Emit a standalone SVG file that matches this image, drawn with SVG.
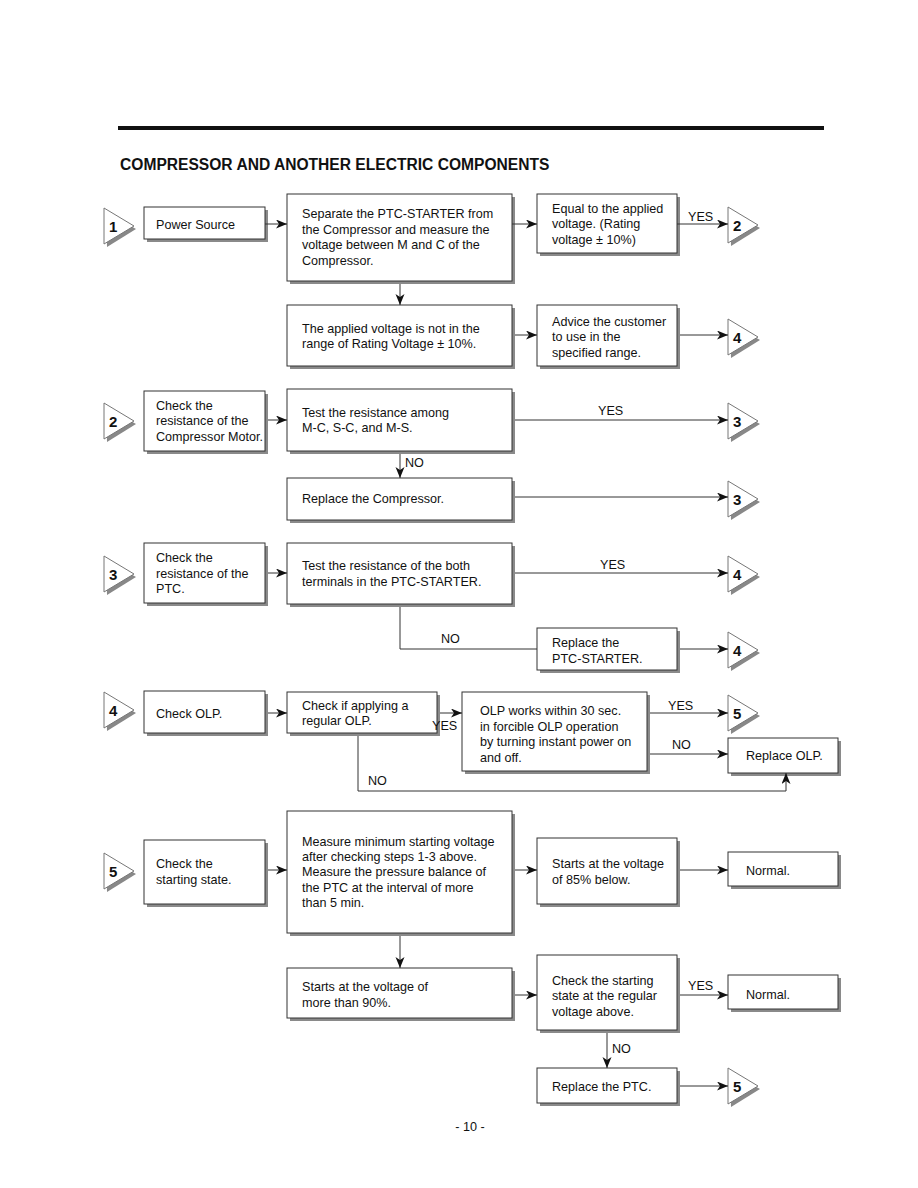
<svg xmlns="http://www.w3.org/2000/svg" xmlns:xlink="http://www.w3.org/1999/xlink" width="918" height="1188" viewBox="0 0 918 1188">
<style>
.bx{fill:#fff;stroke:#333;stroke-width:1}
.sh{fill:#8a8a8a}
.t{font-family:"Liberation Sans",Arial,sans-serif;font-size:12.6px;fill:#111}
.n{font-family:"Liberation Sans",Arial,sans-serif;font-size:15px;font-weight:bold;fill:#111}
.ln{fill:none;stroke:#333;stroke-width:1}
.ar{marker-end:url(#ah)}
.tri{fill:#fff;stroke:#777;stroke-width:1}
.trs{fill:#888}
</style>
<defs>
<marker id="ah" markerUnits="userSpaceOnUse" markerWidth="12" markerHeight="10" refX="11" refY="4.5" orient="auto">
<path d="M0,0 L11,4.5 L0,9 L3,4.5 z" fill="#111"/>
</marker>
<g id="tri">
<polygon class="trs" points="2,4 32,21 3,39"/>
<polygon class="tri" points="0,0 30,18 0,36"/>
</g>
</defs>
<rect x="118" y="126" width="706" height="4" fill="#111"/>
<text x="120" y="170" font-family="'Liberation Sans',Arial,sans-serif" font-size="15.6" font-weight="bold" fill="#111">COMPRESSOR AND ANOTHER ELECTRIC COMPONENTS</text>

<!-- Row 1 -->
<g id="c1a"><use xlink:href="#tri" x="104" y="208"/><text class="n" x="109" y="232">1</text></g>
<g id="n_power"><rect class="sh" x="147" y="210" width="121" height="32"/><rect class="bx" x="144" y="207" width="121" height="32"/><text class="t" x="156" y="229">Power Source</text></g>
<g id="n_separate"><rect class="sh" x="290" y="197" width="225" height="87"/><rect class="bx" x="287" y="194" width="225" height="87"/>
<text class="t" x="302" y="218">Separate the PTC-STARTER from</text>
<text class="t" x="302" y="234">the Compressor and measure the</text>
<text class="t" x="302" y="249">voltage between M and C of the</text>
<text class="t" x="302" y="265">Compressor.</text></g>
<g id="n_equal"><rect class="sh" x="540" y="197" width="140" height="59"/><rect class="bx" x="537" y="194" width="140" height="59"/>
<text class="t" x="552" y="213">Equal to the applied</text>
<text class="t" x="552" y="228">voltage. (Rating</text>
<text class="t" x="552" y="244">voltage ± 10%)</text></g>
<g id="c2a"><use xlink:href="#tri" x="728" y="207"/><text class="n" x="733" y="231">2</text></g>
<g id="n_notrange"><rect class="sh" x="290" y="308" width="225" height="61"/><rect class="bx" x="287" y="305" width="225" height="61"/>
<text class="t" x="302" y="333">The applied voltage is not in the</text>
<text class="t" x="302" y="348">range of Rating Voltage ± 10%.</text></g>
<g id="n_advice"><rect class="sh" x="540" y="308" width="140" height="61"/><rect class="bx" x="537" y="305" width="140" height="61"/>
<text class="t" x="552" y="326">Advice the customer</text>
<text class="t" x="552" y="341">to use in the</text>
<text class="t" x="552" y="357">specified range.</text></g>
<g id="c4a"><use xlink:href="#tri" x="728" y="319"/><text class="n" x="733" y="343">4</text></g>

<!-- Row 2 -->
<g id="c2b"><use xlink:href="#tri" x="104" y="403"/><text class="n" x="109" y="427">2</text></g>
<g id="n_checkres"><rect class="sh" x="147" y="394" width="121" height="60"/><rect class="bx" x="144" y="391" width="121" height="60"/>
<text class="t" x="156" y="410">Check the</text>
<text class="t" x="156" y="425">resistance of the</text>
<text class="t" x="156" y="441">Compressor Motor.</text></g>
<g id="n_testres"><rect class="sh" x="290" y="392" width="225" height="62"/><rect class="bx" x="287" y="389" width="225" height="62"/>
<text class="t" x="302" y="417">Test the resistance among</text>
<text class="t" x="302" y="432">M-C, S-C, and M-S.</text></g>
<g id="c3a"><use xlink:href="#tri" x="728" y="403"/><text class="n" x="733" y="427">3</text></g>
<g id="n_replcomp"><rect class="sh" x="290" y="481" width="225" height="42"/><rect class="bx" x="287" y="478" width="225" height="42"/>
<text class="t" x="302" y="503">Replace the Compressor.</text></g>
<g id="c3b"><use xlink:href="#tri" x="728" y="481"/><text class="n" x="733" y="505">3</text></g>

<!-- Row 3 -->
<g id="c3c"><use xlink:href="#tri" x="104" y="556"/><text class="n" x="109" y="580">3</text></g>
<g id="n_checkptc"><rect class="sh" x="147" y="546" width="121" height="60"/><rect class="bx" x="144" y="543" width="121" height="60"/>
<text class="t" x="156" y="562">Check the</text>
<text class="t" x="156" y="578">resistance of the</text>
<text class="t" x="156" y="593">PTC.</text></g>
<g id="n_testptc"><rect class="sh" x="290" y="546" width="225" height="61"/><rect class="bx" x="287" y="543" width="225" height="61"/>
<text class="t" x="302" y="570">Test the resistance of the both</text>
<text class="t" x="302" y="586">terminals in the PTC-STARTER.</text></g>
<g id="c4b"><use xlink:href="#tri" x="728" y="556"/><text class="n" x="733" y="580">4</text></g>
<g id="n_replptcs"><rect class="sh" x="540" y="631" width="140" height="42"/><rect class="bx" x="537" y="628" width="140" height="42"/>
<text class="t" x="552" y="647">Replace the</text>
<text class="t" x="552" y="663">PTC-STARTER.</text></g>
<g id="c4c"><use xlink:href="#tri" x="728" y="632"/><text class="n" x="733" y="656">4</text></g>

<!-- Row 4 -->
<g id="c4d"><use xlink:href="#tri" x="104" y="692"/><text class="n" x="109" y="716">4</text></g>
<g id="n_checkolp"><rect class="sh" x="147" y="694" width="121" height="42"/><rect class="bx" x="144" y="691" width="121" height="42"/>
<text class="t" x="156" y="718">Check OLP.</text></g>
<g id="n_regolp"><rect class="sh" x="290" y="695" width="150" height="41"/><rect class="bx" x="287" y="692" width="150" height="41"/>
<text class="t" x="302" y="710">Check if applying a</text>
<text class="t" x="302" y="725">regular OLP.</text></g>
<g id="n_olpworks"><rect class="sh" x="465" y="695" width="185" height="79"/><rect class="bx" x="462" y="692" width="185" height="79"/>
<text class="t" x="480" y="715">OLP works within 30 sec.</text>
<text class="t" x="480" y="731">in forcible OLP operation</text>
<text class="t" x="480" y="746">by turning instant power on</text>
<text class="t" x="480" y="762">and off.</text></g>
<g id="c5a"><use xlink:href="#tri" x="728" y="695"/><text class="n" x="733" y="719">5</text></g>
<g id="n_replolp"><rect class="sh" x="731" y="741" width="110" height="35"/><rect class="bx" x="728" y="738" width="110" height="35"/>
<text class="t" x="746" y="760">Replace OLP.</text></g>

<!-- Row 5 -->
<g id="c5b"><use xlink:href="#tri" x="104" y="853"/><text class="n" x="109" y="877">5</text></g>
<g id="n_checkstart"><rect class="sh" x="147" y="843" width="121" height="64"/><rect class="bx" x="144" y="840" width="121" height="64"/>
<text class="t" x="156" y="868">Check the</text>
<text class="t" x="156" y="884">starting state.</text></g>
<g id="n_measure"><rect class="sh" x="290" y="814" width="225" height="122"/><rect class="bx" x="287" y="811" width="225" height="122"/>
<text class="t" x="302" y="846">Measure minimum starting voltage</text>
<text class="t" x="302" y="861">after checking steps 1-3 above.</text>
<text class="t" x="302" y="876">Measure the pressure balance of</text>
<text class="t" x="302" y="892">the PTC at the interval of more</text>
<text class="t" x="302" y="907">than 5 min.</text></g>
<g id="n_starts85"><rect class="sh" x="540" y="841" width="140" height="66"/><rect class="bx" x="537" y="838" width="140" height="66"/>
<text class="t" x="552" y="868">Starts at the voltage</text>
<text class="t" x="552" y="884">of 85% below.</text></g>
<g id="n_normal1"><rect class="sh" x="731" y="855" width="110" height="34"/><rect class="bx" x="728" y="852" width="110" height="34"/>
<text class="t" x="746" y="875">Normal.</text></g>
<g id="n_starts90"><rect class="sh" x="290" y="971" width="225" height="50"/><rect class="bx" x="287" y="968" width="225" height="50"/>
<text class="t" x="302" y="991">Starts at the voltage of</text>
<text class="t" x="302" y="1007">more than 90%.</text></g>
<g id="n_checkreg"><rect class="sh" x="540" y="958" width="140" height="75"/><rect class="bx" x="537" y="955" width="140" height="75"/>
<text class="t" x="552" y="985">Check the starting</text>
<text class="t" x="552" y="1000">state at the regular</text>
<text class="t" x="552" y="1016">voltage above.</text></g>
<g id="n_normal2"><rect class="sh" x="731" y="978" width="110" height="34"/><rect class="bx" x="728" y="975" width="110" height="34"/>
<text class="t" x="746" y="999">Normal.</text></g>
<g id="n_replptc"><rect class="sh" x="540" y="1071" width="140" height="35"/><rect class="bx" x="537" y="1068" width="140" height="35"/>
<text class="t" x="552" y="1091">Replace the PTC.</text></g>
<g id="c5c"><use xlink:href="#tri" x="728" y="1068"/><text class="n" x="733" y="1092">5</text></g>

<g id="connectors">
<line class="ln ar" x1="265" y1="224" x2="287" y2="224"/>
<line class="ln ar" x1="512" y1="224" x2="537" y2="224"/>
<line class="ln ar" x1="677" y1="224" x2="728" y2="224"/>
<text class="t" x="688" y="221">YES</text>
<line class="ln ar" x1="400" y1="284" x2="400" y2="305"/>
<line class="ln ar" x1="515" y1="335" x2="537" y2="335"/>
<line class="ln ar" x1="680" y1="335" x2="728" y2="335"/>

<line class="ln ar" x1="268" y1="420" x2="287" y2="420"/>
<line class="ln ar" x1="515" y1="420" x2="728" y2="420"/>
<text class="t" x="598" y="415">YES</text>
<line class="ln ar" x1="400" y1="454" x2="400" y2="478"/>
<text class="t" x="405" y="467">NO</text>
<line class="ln ar" x1="515" y1="497" x2="728" y2="497"/>

<line class="ln ar" x1="268" y1="573" x2="287" y2="573"/>
<line class="ln ar" x1="515" y1="573" x2="728" y2="573"/>
<text class="t" x="600" y="569">YES</text>
<polyline class="ln" points="400,607 400,649 537,649"/>
<text class="t" x="441" y="643">NO</text>
<line class="ln ar" x1="680" y1="649" x2="728" y2="649"/>

<line class="ln ar" x1="268" y1="713" x2="287" y2="713"/>
<line class="ln ar" x1="440" y1="713" x2="462" y2="713"/>
<text class="t" x="432" y="730">YES</text>
<line class="ln ar" x1="650" y1="713" x2="728" y2="713"/>
<text class="t" x="668" y="710">YES</text>
<line class="ln ar" x1="650" y1="754" x2="728" y2="754"/>
<text class="t" x="672" y="749">NO</text>
<polyline class="ln ar" points="358,736 358,791 786,791 786,773"/>
<text class="t" x="368" y="785">NO</text>

<line class="ln ar" x1="268" y1="870" x2="287" y2="870"/>
<line class="ln ar" x1="515" y1="870" x2="537" y2="870"/>
<line class="ln ar" x1="680" y1="870" x2="728" y2="870"/>
<line class="ln ar" x1="400" y1="936" x2="400" y2="968"/>
<line class="ln ar" x1="515" y1="995" x2="537" y2="995"/>
<line class="ln ar" x1="680" y1="995" x2="728" y2="995"/>
<text class="t" x="688" y="990">YES</text>
<line class="ln ar" x1="607" y1="1033" x2="607" y2="1068"/>
<text class="t" x="612" y="1053">NO</text>
<line class="ln ar" x1="680" y1="1086" x2="728" y2="1086"/>
</g>

<text class="t" x="470" y="1131" text-anchor="middle" font-size="13">- 10 -</text>
</svg>
